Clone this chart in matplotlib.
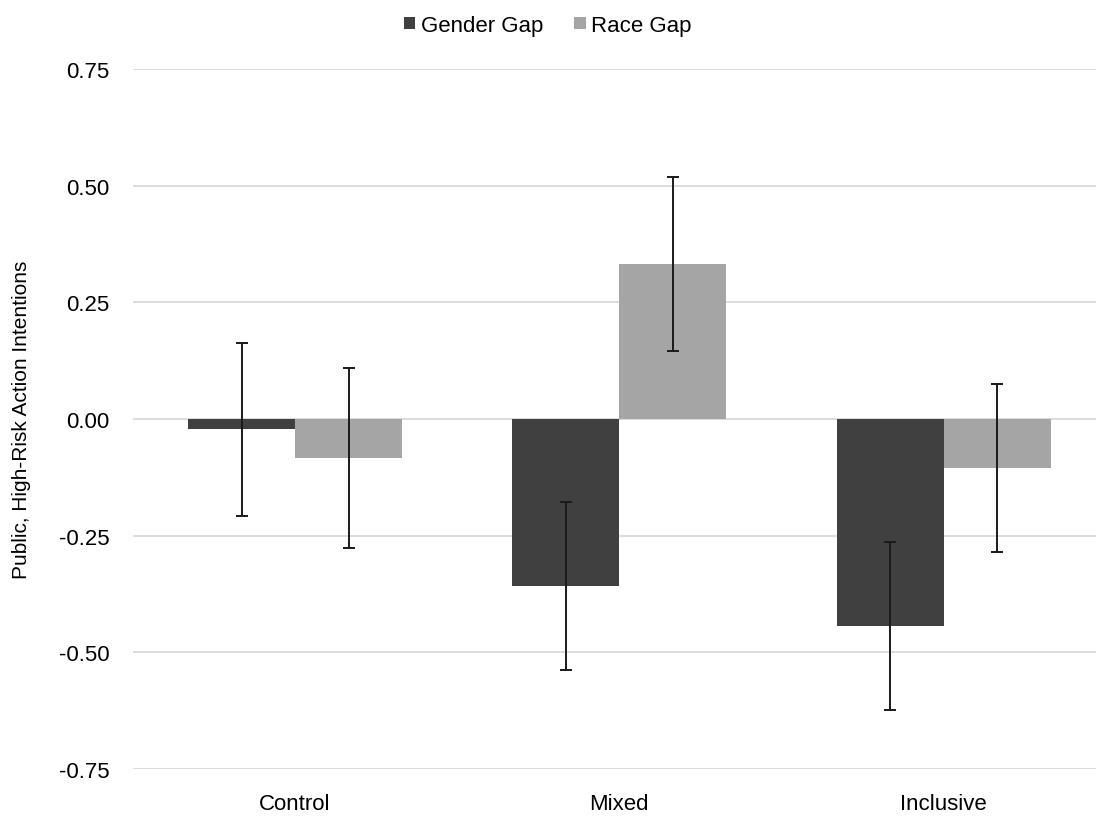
import numpy as np
import matplotlib.pyplot as plt

# Valeurs
conditions = ["Control", "Mixed", "Inclusive"]
gender_gap = [-0.022, -0.358, -0.444]
race_gap = [-0.084, 0.332, -0.105]
gender_err = [0.185, 0.180, 0.180]
race_err = [0.193, 0.186, 0.181]
y_ticks = [-0.75, -0.50, -0.25, 0.00, 0.25, 0.50, 0.75]

plt.rcParams['font.family'] = ['Liberation Sans', 'DejaVu Sans']

fig = plt.figure(figsize=(10.96, 8.20), dpi=100)
ax = fig.add_axes([133 / 1096, 50 / 820, 1 - 133 / 1096, 700 / 820])

x = np.arange(len(conditions))
w = 0.33
err_kw = dict(ecolor='#1a1a1a', elinewidth=1.4, capsize=4, capthick=1.4)
ax.bar(x - w / 2, gender_gap, w, color='#404040', yerr=gender_err,
       error_kw=err_kw, label='Gender Gap', zorder=2)
ax.bar(x + w / 2, race_gap, w, color='#a5a5a5', yerr=race_err,
       error_kw=err_kw, label='Race Gap', zorder=2)

ax.set_ylim(-0.75, 0.75)
ax.set_xlim(-0.5, 2.47)
ax.set_yticks(y_ticks)
ax.set_yticklabels(["%.2f" % t for t in y_ticks], fontsize=16)
ax.set_xticks(x)
ax.set_xticklabels(conditions, fontsize=16)
ax.tick_params(length=0)
ax.tick_params(axis='x', pad=17)
ax.tick_params(axis='y', pad=17)
ax.yaxis.grid(True, color='#d9d9d9', linewidth=1.3, zorder=0)
ax.set_axisbelow(True)
for s in ax.spines.values():
    s.set_visible(False)

ax.set_ylabel("Public, High-Risk Action Intentions", fontsize=15)
ax.yaxis.set_label_coords(-102 / 963, 0.5)

fig.legend(loc='upper center', bbox_to_anchor=(0.5, 1.005), ncol=2, frameon=False,
           fontsize=16, handlelength=0.5, handleheight=0.5, handletextpad=0.25,
           columnspacing=1.4)

fig.savefig("out.png", dpi=100)
